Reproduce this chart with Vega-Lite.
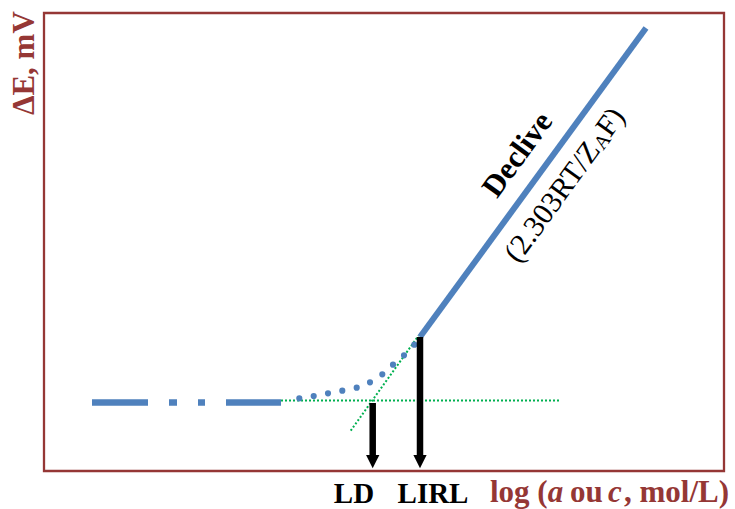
{
  "$schema": "https://vega.github.io/schema/vega-lite/v6.json",
  "width": 680,
  "height": 458,
  "padding": {"left": 44, "top": 13, "right": 11, "bottom": 38},
  "autosize": {"type": "none"},
  "config": {"view": {"stroke": "#953735", "strokeWidth": 2.3}, "font": "Liberation Serif"},
  "datasets": {
    "greenH": [{"x": 237, "y": 70.5}, {"x": 516, "y": 70.5}],
    "greenS": [{"x": 306.7, "y": 40.3}, {"x": 374.3, "y": 135}],
    "dash": [{"x": 48, "y": 68.5}, {"x": 237, "y": 68.5}],
    "dots": [
      {"x": 255.3, "y": 72.7}, {"x": 269.7, "y": 75}, {"x": 284, "y": 77.7},
      {"x": 298.3, "y": 80.3}, {"x": 312.7, "y": 83.3}, {"x": 326, "y": 88.7},
      {"x": 338.3, "y": 96.7}, {"x": 349, "y": 106.3}, {"x": 360, "y": 115.7},
      {"x": 370.3, "y": 126.3}
    ],
    "slope": [{"x": 376, "y": 134}, {"x": 602, "y": 443}],
    "arrows": [
      {"x": 328.7, "y": 68, "y2": 15, "yh": 9.3},
      {"x": 376, "y": 134, "y2": 15, "yh": 9.3}
    ],
    "declive": [{"x": 474, "y": 316, "label": "Declive"}],
    "formula": [
      {"x": 508.6, "y": 269.0, "label": "(2.303RT/Z"},
      {"x": 566.7, "y": 348.9, "label": "F)"}
    ],
    "formulaSub": [{"x": 558.6, "y": 329.4, "label": "A"}],
    "markers": [
      {"x": 310, "y": -32, "label": "LD"},
      {"x": 389, "y": -32, "label": "LIRL"}
    ],
    "xtitle": [
      {"x": 446, "y": -31, "label": "log ("},
      {"x": 526, "y": -31, "label": "ou"},
      {"x": 580, "y": -31, "label": ", mol/L)"}
    ],
    "xtitleItalic": [
      {"x": 503.7, "y": -31, "label": "a"},
      {"x": 564, "y": -31, "label": "c"}
    ],
    "ytitle": [{"x": -10, "y": 356, "label": "ΔE, mV"}]
  },
  "encoding": {
    "x": {"field": "x", "type": "quantitative", "scale": {"domain": [0, 680], "nice": false, "zero": false}, "axis": null},
    "y": {"field": "y", "type": "quantitative", "scale": {"domain": [0, 458], "nice": false, "zero": false}, "axis": null}
  },
  "layer": [
    {"data": {"name": "greenH"}, "mark": {"type": "line", "color": "#00B050", "strokeWidth": 2, "strokeDash": [2, 2]}},
    {"data": {"name": "greenS"}, "mark": {"type": "line", "color": "#00B050", "strokeWidth": 2, "strokeDash": [2, 2]}},
    {"data": {"name": "dash"}, "mark": {"type": "line", "color": "#4F81BD", "strokeWidth": 6.5, "strokeCap": "butt", "strokeDash": [56, 21, 8, 21, 7, 21]}},
    {"data": {"name": "dots"}, "mark": {"type": "circle", "color": "#4F81BD", "size": 38, "opacity": 1}},
    {"data": {"name": "slope"}, "mark": {"type": "line", "color": "#4F81BD", "strokeWidth": 6, "strokeCap": "butt"}},
    {"data": {"name": "arrows"}, "mark": {"type": "rule", "color": "#000000", "strokeWidth": 6.5}, "encoding": {"y2": {"field": "y2"}}},
    {"data": {"name": "arrows"}, "mark": {"type": "point", "filled": true, "color": "#000000", "opacity": 1, "shape": "M-1,-1L1,-1L0,1Z", "size": 177}, "encoding": {"y": {"field": "yh", "type": "quantitative"}}},
    {"data": {"name": "declive"}, "mark": {"type": "text", "fontWeight": "bold", "fontSize": 31, "angle": -54, "align": "center", "baseline": "middle", "color": "#000000"}, "encoding": {"text": {"field": "label"}}},
    {"data": {"name": "formula"}, "mark": {"type": "text", "fontSize": 30, "angle": -54, "align": "center", "baseline": "middle", "color": "#000000"}, "encoding": {"text": {"field": "label"}}},
    {"data": {"name": "formulaSub"}, "mark": {"type": "text", "fontSize": 20, "angle": -54, "align": "center", "baseline": "middle", "color": "#000000"}, "encoding": {"text": {"field": "label"}}},
    {"data": {"name": "markers"}, "mark": {"type": "text", "fontWeight": "bold", "fontSize": 29, "align": "center", "baseline": "alphabetic", "color": "#000000"}, "encoding": {"text": {"field": "label"}}},
    {"data": {"name": "xtitle"}, "mark": {"type": "text", "fontWeight": "bold", "fontSize": 31, "align": "left", "baseline": "alphabetic", "color": "#953735"}, "encoding": {"text": {"field": "label"}}},
    {"data": {"name": "xtitleItalic"}, "mark": {"type": "text", "fontWeight": "bold", "fontStyle": "italic", "fontSize": 31, "align": "left", "baseline": "alphabetic", "color": "#953735"}, "encoding": {"text": {"field": "label"}}},
    {"data": {"name": "ytitle"}, "mark": {"type": "text", "fontWeight": "bold", "fontSize": 31, "angle": -90, "align": "left", "baseline": "alphabetic", "color": "#953735"}, "encoding": {"text": {"field": "label"}}}
  ]
}
